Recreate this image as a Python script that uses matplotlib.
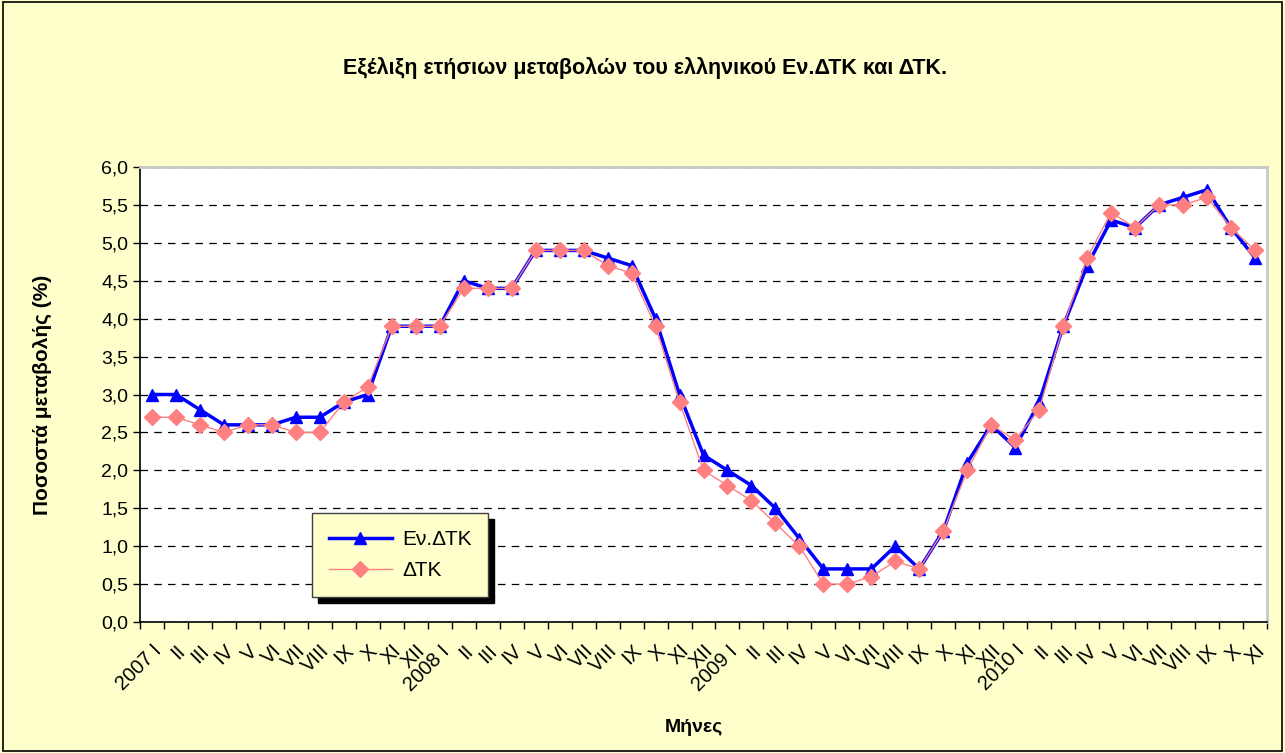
import numpy as np
import matplotlib
matplotlib.use("Agg")
import matplotlib.pyplot as plt
from matplotlib.patches import Rectangle, Shadow
from matplotlib.ticker import FuncFormatter, FixedLocator

plt.rcParams['font.family'] = ['Liberation Sans', 'DejaVu Sans']

roman = ["I", "II", "III", "IV", "V", "VI", "VII", "VIII", "IX", "X", "XI", "XII"]
years = [2007, 2008, 2009, 2010]
months = []
for y in years:
    for i, r in enumerate(roman):
        if y == 2010 and i > 10:
            break
        months.append(f"{y} {r}" if i == 0 else r)

en_dtk = [3.0, 3.0, 2.8, 2.6, 2.6, 2.6, 2.7, 2.7, 2.9, 3.0, 3.9, 3.9,
          3.9, 4.5, 4.4, 4.4, 4.9, 4.9, 4.9, 4.8, 4.7, 4.0, 3.0, 2.2,
          2.0, 1.8, 1.5, 1.1, 0.7, 0.7, 0.7, 1.0, 0.7, 1.2, 2.1, 2.6,
          2.3, 2.9, 3.9, 4.7, 5.3, 5.2, 5.5, 5.6, 5.7, 5.2, 4.8]
dtk = [2.7, 2.7, 2.6, 2.5, 2.6, 2.6, 2.5, 2.5, 2.9, 3.1, 3.9, 3.9,
       3.9, 4.4, 4.4, 4.4, 4.9, 4.9, 4.9, 4.7, 4.6, 3.9, 2.9, 2.0,
       1.8, 1.6, 1.3, 1.0, 0.5, 0.5, 0.6, 0.8, 0.7, 1.2, 2.0, 2.6,
       2.4, 2.8, 3.9, 4.8, 5.4, 5.2, 5.5, 5.5, 5.6, 5.2, 4.9]

bg = '#FFFFCC'
fig = plt.figure(figsize=(12.85, 7.53), dpi=100, facecolor=bg)
ax = fig.add_axes([140/1285, 1 - 622/753, 1127/1285, 455/753])
ax.set_facecolor('white')

x = np.arange(len(months))
ax.plot(x, en_dtk, color='#0000FF', lw=2.5, marker='^', ms=9, label='Εν.ΔΤΚ', zorder=3)
ax.plot(x, dtk, color='#FF8080', lw=1, marker='D', ms=8, label='ΔΤΚ', zorder=4)

ax.set_xlim(-0.5, len(months) - 0.5)
ax.set_ylim(0, 6)
ax.set_yticks(np.arange(0, 6.01, 0.5))
ax.yaxis.set_major_formatter(FuncFormatter(lambda v, p: f"{v:.1f}".replace('.', ',')))
ax.yaxis.grid(True, color='black', linestyle=(0, (6, 5)), lw=0.9)

ax.set_xticks(x)
ax.set_xticklabels(months, rotation=45, ha='right', rotation_mode='anchor', fontsize=14.5)
ax.tick_params(axis='x', which='major', length=0, pad=14)
ax.xaxis.set_minor_locator(FixedLocator(np.arange(-0.5, len(months), 1)))
ax.tick_params(axis='x', which='minor', length=5, direction='out', width=1)
ax.tick_params(axis='y', labelsize=14, length=5, width=1)

for s in ['left', 'bottom']:
    ax.spines[s].set_color('black')
    ax.spines[s].set_linewidth(1.2)
for s in ['top', 'right']:
    ax.spines[s].set_color('#C8C8C8')
    ax.spines[s].set_linewidth(2)

ax.set_ylabel('Ποσοστά μεταβολής (%)', fontsize=15, fontweight='bold')
ax.yaxis.set_label_coords(-0.078, 0.5)
fig.text(694/1285, 1 - 727/753, 'Μήνες', fontsize=14, fontweight='bold', ha='center', va='center')
fig.text(645/1285, 1 - 68/753, 'Εξέλιξη ετήσιων μεταβολών του ελληνικού Εν.ΔΤΚ και ΔΤΚ.',
         fontsize=15.5, fontweight='bold', ha='center', va='center')

leg = ax.legend(loc='lower left', bbox_to_anchor=(0.153, 0.055), fontsize=15,
                frameon=True, fancybox=False, shadow=False,
                facecolor=bg, edgecolor='#404040', framealpha=1,
                handlelength=3.0, handletextpad=0.5, borderpad=0.8, labelspacing=0.6,
                borderaxespad=0)
leg.get_frame().set_linewidth(1)
leg.set_zorder(6)

# thick black drop shadow like the original
fig.canvas.draw()
sh = Shadow(leg.legendPatch, 4, -4, color='black', alpha=1)
sh.set_zorder(5.5)
ax.add_artist(sh)

fig.add_artist(Rectangle((0.002, 0.002), 0.996, 0.996, transform=fig.transFigure,
                         fill=False, edgecolor='black', lw=1.2))

fig.savefig('out.png', dpi=100, facecolor=bg)
